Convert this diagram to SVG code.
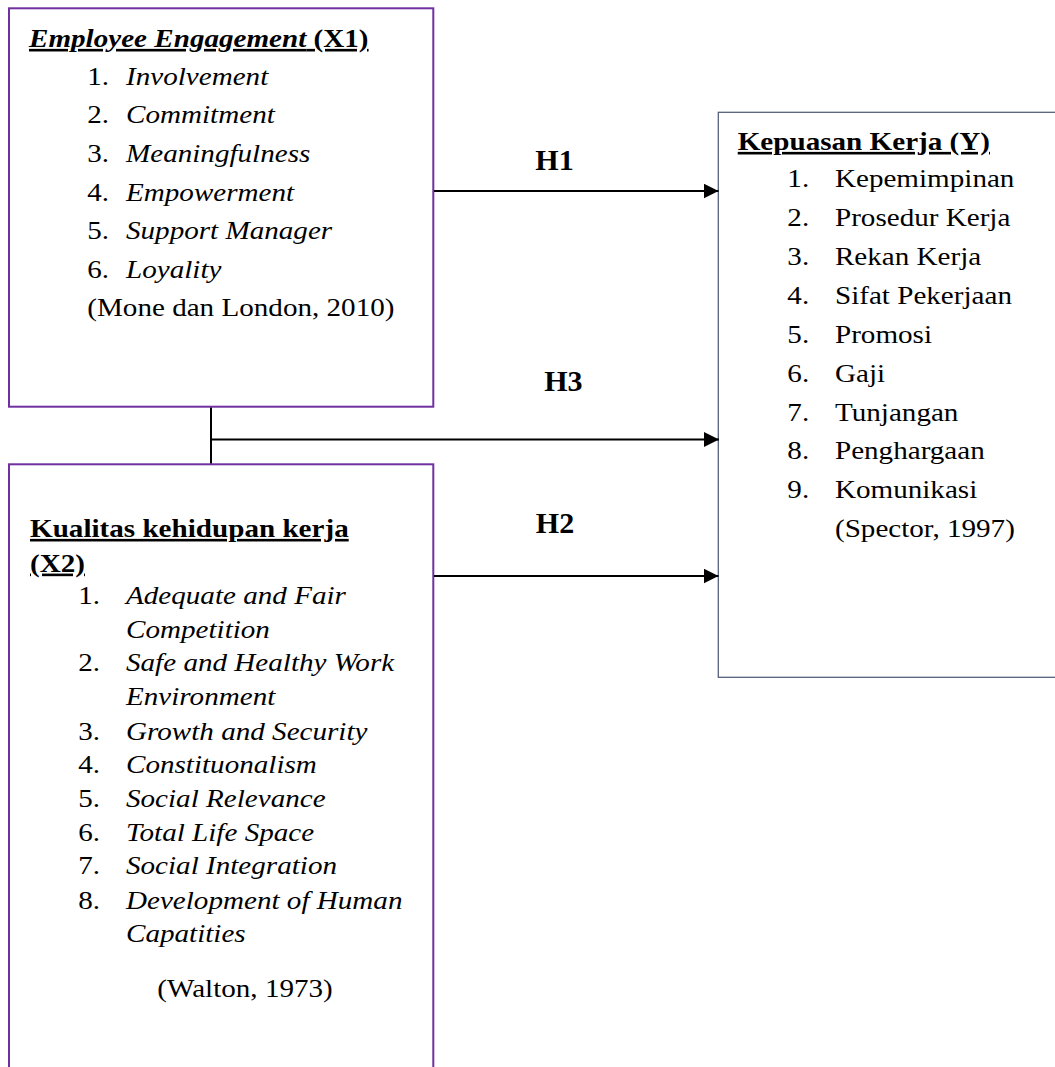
<svg xmlns="http://www.w3.org/2000/svg" width="1055" height="1067" viewBox="0 0 1055 1067">
<style>
  text { font-family: "Liberation Serif", "Times New Roman", serif; fill: #000; }
  .t { font-size: 26px; }
  .b { font-weight: bold; }
  .i { font-style: italic; }
  .u { text-decoration: underline; }
  .h { font-size: 30px; font-weight: bold; }
  .box1 { fill: #fff; stroke: #7030A0; stroke-width: 2; }
  .box2 { fill: #fff; stroke: #56607a; stroke-width: 1.3; }
  .conn { fill: none; stroke: #000; stroke-width: 2; }
</style>
<defs>
  <marker id="arr" viewBox="0 0 15 15" refX="15" refY="7.5" markerWidth="15" markerHeight="15" markerUnits="userSpaceOnUse" orient="auto">
    <path d="M0,0 L15,7.5 L0,15 z" fill="#000"/>
  </marker>
</defs>
<rect width="1055" height="1067" fill="#fff"/>

<g id="node-x1">
  <rect class="box1" x="9" y="8.3" width="424.3" height="398.4"/>
  <g transform="scale(1.12,1)">
    <text class="t b u" x="25.9" y="47"><tspan class="i">Employee Engagement</tspan> (X1)</text>
    <text class="t" y="85"><tspan x="77.9">1.</tspan><tspan class="i" x="112.5">Involvement</tspan></text>
    <text class="t" y="123.5"><tspan x="77.9">2.</tspan><tspan class="i" x="112.5">Commitment</tspan></text>
    <text class="t" y="162"><tspan x="77.9">3.</tspan><tspan class="i" x="112.5">Meaningfulness</tspan></text>
    <text class="t" y="200.7"><tspan x="77.9">4.</tspan><tspan class="i" x="112.5">Empowerment</tspan></text>
    <text class="t" y="239.3"><tspan x="77.9">5.</tspan><tspan class="i" x="112.5">Support Manager</tspan></text>
    <text class="t" y="277.8"><tspan x="77.9">6.</tspan><tspan class="i" x="112.5">Loyality</tspan></text>
    <text class="t" x="77.9" y="316.5">(Mone dan London, 2010)</text>
  </g>
</g>

<g id="node-x2">
  <rect class="box2" x="9" y="464.3" width="424.3" height="650" style="stroke:#7030A0;stroke-width:2"/>
  <g transform="scale(1.12,1)">
    <text class="t b u" x="26.8" y="537">Kualitas kehidupan kerja</text>
    <text class="t b u" x="26.8" y="571.7">(X2)</text>
    <text class="t" y="604"><tspan x="69.9">1.</tspan><tspan class="i" x="112.5">Adequate and Fair</tspan></text>
    <text class="t i" x="112.5" y="637.8">Competition</text>
    <text class="t" y="671"><tspan x="69.9">2.</tspan><tspan class="i" x="112.5">Safe and Healthy Work</tspan></text>
    <text class="t i" x="112.5" y="705">Environment</text>
    <text class="t" y="740"><tspan x="69.9">3.</tspan><tspan class="i" x="112.5">Growth and Security</tspan></text>
    <text class="t" y="773.5"><tspan x="69.9">4.</tspan><tspan class="i" x="112.5">Constituonalism</tspan></text>
    <text class="t" y="807"><tspan x="69.9">5.</tspan><tspan class="i" x="112.5">Social Relevance</tspan></text>
    <text class="t" y="840.8"><tspan x="69.9">6.</tspan><tspan class="i" x="112.5">Total Life Space</tspan></text>
    <text class="t" y="874.5"><tspan x="69.9">7.</tspan><tspan class="i" x="112.5">Social Integration</tspan></text>
    <text class="t" y="909"><tspan x="69.9">8.</tspan><tspan class="i" x="112.5">Development of Human</tspan></text>
    <text class="t i" x="112.5" y="942.3">Capatities</text>
    <text class="t" x="218.8" y="997.3" text-anchor="middle">(Walton, 1973)</text>
  </g>
</g>

<g id="node-y">
  <rect class="box2" x="718.3" y="112.3" width="400" height="565"/>
  <g transform="scale(1.12,1)">
    <text class="t b u" x="658.7" y="150">Kepuasan Kerja (Y)</text>
    <text class="t" y="187.5"><tspan x="703">1.</tspan><tspan x="745.5">Kepemimpinan</tspan></text>
    <text class="t" y="226.3"><tspan x="703">2.</tspan><tspan x="745.5">Prosedur Kerja</tspan></text>
    <text class="t" y="265.2"><tspan x="703">3.</tspan><tspan x="745.5">Rekan Kerja</tspan></text>
    <text class="t" y="304"><tspan x="703">4.</tspan><tspan x="745.5">Sifat Pekerjaan</tspan></text>
    <text class="t" y="342.9"><tspan x="703">5.</tspan><tspan x="745.5">Promosi</tspan></text>
    <text class="t" y="381.7"><tspan x="703">6.</tspan><tspan x="745.5">Gaji</tspan></text>
    <text class="t" y="420.6"><tspan x="703">7.</tspan><tspan x="745.5">Tunjangan</tspan></text>
    <text class="t" y="459.4"><tspan x="703">8.</tspan><tspan x="745.5">Penghargaan</tspan></text>
    <text class="t" y="498.3"><tspan x="703">9.</tspan><tspan x="745.5">Komunikasi</tspan></text>
    <text class="t" x="745.5" y="537.2">(Spector, 1997)</text>
  </g>
</g>

<g id="connectors">
  <line class="conn" x1="434" y1="191" x2="718.5" y2="191" marker-end="url(#arr)"/>
  <polyline class="conn" points="211,407.5 211,463.5"/>
  <line class="conn" x1="210" y1="439.5" x2="719" y2="439.5" marker-end="url(#arr)"/>
  <line class="conn" x1="434" y1="576" x2="718.5" y2="576" marker-end="url(#arr)"/>
  <text class="h" x="554.5" y="169.5" text-anchor="middle">H1</text>
  <text class="h" x="563.3" y="390.7" text-anchor="middle">H3</text>
  <text class="h" x="555" y="532.7" text-anchor="middle">H2</text>
</g>
</svg>
